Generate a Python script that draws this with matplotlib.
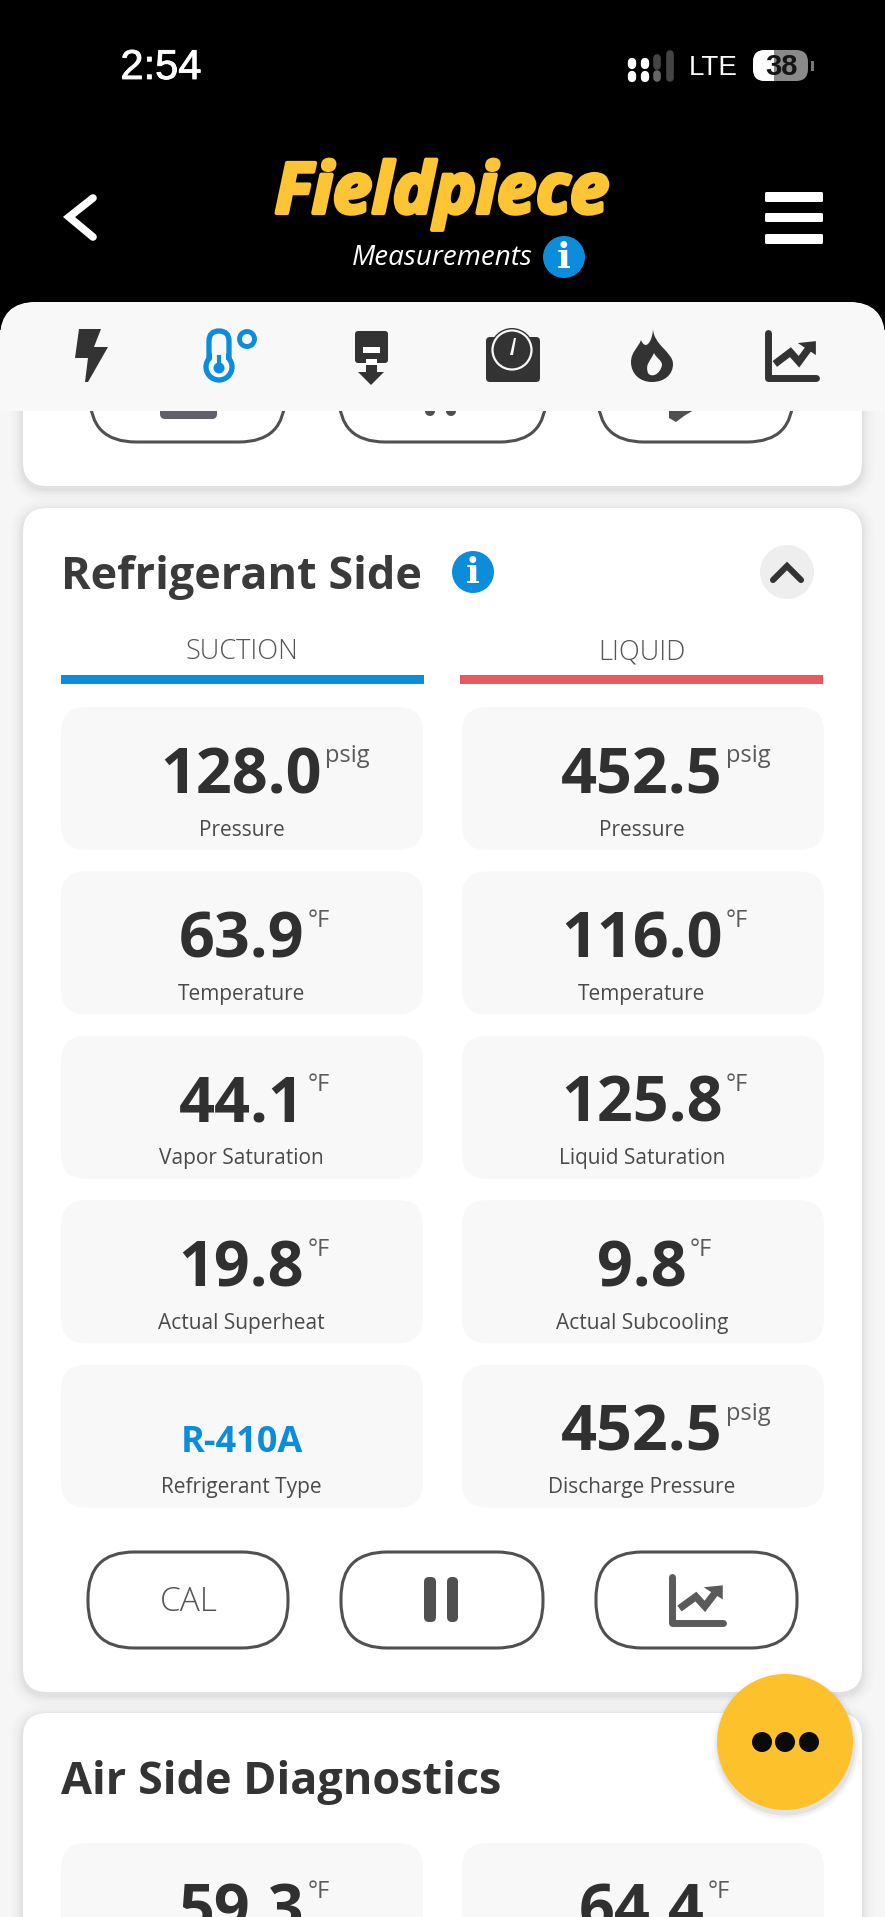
import matplotlib
matplotlib.use("Agg")
import matplotlib.pyplot as plt
from matplotlib.patches import FancyBboxPatch, Circle, Polygon, PathPatch, Rectangle
from matplotlib.path import Path
import matplotlib.patheffects as pe

# ---- content ----
col_titles = ["SUCTION", "LIQUID"]
suction_values = ["128.0", "63.9", "44.1", "19.8", "R-410A"]
suction_units = ["psig", "°F", "°F", "°F", ""]
suction_labels = ["Pressure", "Temperature", "Vapor Saturation", "Actual Superheat", "Refrigerant Type"]
liquid_values = ["452.5", "116.0", "125.8", "9.8", "452.5"]
liquid_units = ["psig", "°F", "°F", "°F", "psig"]
liquid_labels = ["Pressure", "Temperature", "Liquid Saturation", "Actual Subcooling", "Discharge Pressure"]
air_values = ["59.3", "64.4"]
air_units = ["°F", "°F"]

W, H = 885, 1917
BLUE, RED, YEL, DARK, GREY = "#0c8ddb", "#e8585e", "#fdc22b", "#333333", "#505050"
CELL = "#f8f8f8"
plt.rcParams["font.family"] = ["Open Sans", "DejaVu Sans"]

fig = plt.figure(figsize=(W / 100, H / 100), dpi=100, facecolor="#f6f6f6")
ax = fig.add_axes([0, 0, 1, 1])
ax.set_xlim(0, W)
ax.set_ylim(H, 0)
ax.axis("off")


def rbox(x0, y0, x1, y1, r, fc="none", ec="none", lw=0, z=2, alpha=None):
    p = FancyBboxPatch((x0, y0), x1 - x0, y1 - y0, boxstyle=f"round,pad=0,rounding_size={r}",
                       fc=fc, ec=ec, lw=lw, zorder=z, alpha=alpha)
    ax.add_patch(p)
    return p


def card(x0, y0, x1, y1, r=24, z=2):
    for g, a in [(12, .010), (9, .012), (6, .016), (4, .02), (2, .025)]:
        rbox(x0 - g, y0 - g + 3, x1 + g, y1 + g + 3, r + g, fc="k", z=z - .5, alpha=a)
    rbox(x0, y0, x1, y1, r, fc="white", z=z)


def circ(x, y, r, fc="none", ec="none", lw=0, z=6):
    ax.add_patch(Circle((x, y), r, fc=fc, ec=ec, lw=lw, zorder=z))


def poly(pts, fc=DARK, z=6, **kw):
    ax.add_patch(Polygon(pts, closed=True, fc=fc, ec="none", zorder=z, **kw))


def info(x, y, r=21, z=6):
    circ(x, y, r, fc=BLUE, z=z)
    ax.text(x, y + 1, "i", color="white", fontsize=r * 1.25, fontweight="bold", family="DejaVu Serif",
            ha="center", va="center", zorder=z + 1)


def chart_icon(x0, y0, x1, y1, c, z=6, lw=5.0):
    w, h = x1 - x0, y1 - y0
    ax.plot([x0 + .05 * w, x0 + .05 * w, x1 - .03 * w], [y0 + .03 * h, y1 - .05 * h, y1 - .05 * h], color=c, lw=lw,
            solid_capstyle="round", solid_joinstyle="round", zorder=z)
    ax.plot([x0 + .24 * w, x0 + .48 * w, x0 + .64 * w, x0 + .84 * w],
            [y0 + .62 * h, y0 + .42 * h, y0 + .62 * h, y0 + .32 * h], color=c, lw=lw * 1.05,
            solid_joinstyle="miter", zorder=z)
    poly([(x0 + .62 * w, y0 + .23 * h), (x0 + .96 * w, y0 + .19 * h), (x0 + .96 * w, y0 + .48 * h)], fc=c, z=z)


# ---- header ----
ax.add_patch(Rectangle((0, 0), W, 330, fc="black", ec="none", zorder=1))
ax.text(161, 68, "2:54", color="white", fontsize=30, family="Liberation Sans", ha="center", va="center", zorder=6,
        path_effects=[pe.withStroke(linewidth=.6, foreground="white")])
for x in (632, 645):
    ax.plot([x, x], [62, 65], color="white", lw=6, solid_capstyle="round", zorder=6)
    ax.plot([x, x], [75, 78], color="white", lw=6, solid_capstyle="round", zorder=6)
ax.plot([657, 657], [58, 66], color="#444444", lw=5.5, solid_capstyle="round", zorder=6)
ax.plot([657, 657], [74, 78], color="#666666", lw=5.5, solid_capstyle="round", zorder=6)
ax.plot([670, 670], [54, 78], color="#444444", lw=5.5, solid_capstyle="round", zorder=6)
ax.text(713, 68, "LTE", color="white", fontsize=20, family="Liberation Sans", ha="center", va="center", zorder=6)
rbox(753, 50, 808, 81, 12, fc="#8a8a8a", z=5)
clip = rbox(753, 50, 808, 81, 12, fc="white", z=5.5)
clip.set_clip_path(Rectangle((753, 50), 21, 31, transform=ax.transData))
ax.text(781, 67, "38", color="#151515", fontsize=21, family="Liberation Sans", fontweight="bold", ha="center",
        va="center", zorder=6)
ax.add_patch(Rectangle((811, 61), 2.5, 10, fc="#777777", ec="none", zorder=5))

logo = ax.text(442, 213, "Fieldpiece", color="#fdc433", fontsize=50.5, fontstyle="italic", fontweight="bold",
               ha="center", va="baseline", zorder=6)
logo.set_path_effects([pe.withStroke(linewidth=3, foreground="#fdc433")])
ax.text(442, 265, "Measurements", color="white", fontsize=20, fontstyle="italic", ha="center", va="baseline", zorder=6)
info(564, 257)
ax.plot([93, 69, 93], [198, 217, 237], color="white", lw=5.5, solid_capstyle="round", solid_joinstyle="miter", zorder=6)
for y0, y1 in [(192, 202), (213, 222), (234, 244)]:
    rbox(765, y0, 823, y1, 1.5, fc="white", z=6)

# ---- page background and nav ----
ax.add_patch(Rectangle((0, 330), W, H, fc="#f6f6f6", ec="none", zorder=1.1))
rbox(0, 302, W, 500, 38, fc="#f6f6f6", z=1.2)
card(23, 345, 862, 486, z=2)
for x0, x1 in [(90, 285), (339, 546), (598, 793)]:
    rbox(x0, 345, x1, 442, 46, ec=GREY, lw=2.2, z=3)
rbox(160, 395, 217, 419, 5, fc="#60606a", z=3)
circ(430, 411, 5, fc=GREY, z=3)
circ(451, 411, 5, fc=GREY, z=3)
poly([(669, 410), (694, 410), (684, 416), (676, 422), (669, 418)], fc=GREY, z=3)

# nav bar drawn above the scrolled card
rbox(0, 302, W, 411, 36, fc="#f8f8f8", z=4)
ax.add_patch(Rectangle((0, 360), W, 51, fc="#f8f8f8", ec="none", zorder=4))
# bolt
poly([(79, 329), (101, 329), (94, 347), (108, 347), (88, 382), (85, 382), (88, 358), (75, 358)])
# thermometer
rbox(209, 331, 229, 375, 10, ec=BLUE, lw=3.8, z=6)
circ(219, 367, 13, fc="#f8f8f8", ec=BLUE, lw=3.8, z=6.1)
ax.add_patch(Rectangle((212, 345), 14, 18, fc="#f8f8f8", ec="none", zorder=6.2))
circ(219, 368, 5.5, fc=BLUE, z=6.3)
ax.plot([219, 219], [357, 368], color=BLUE, lw=3, zorder=6.3)
circ(247, 339, 7.5, ec=BLUE, lw=3.5, z=6)
# probe
rbox(355, 331, 388, 363, 3, fc=DARK, z=6)
ax.add_patch(Rectangle((363, 347), 17, 6, fc="white", ec="none", zorder=6.1))
ax.add_patch(Rectangle((366, 359), 11, 6, fc="white", ec="none", zorder=6.1))
poly([(366, 365), (377, 365), (377, 372), (384, 372), (371, 385), (358, 372), (366, 372)])
# gauge
rbox(486, 337, 540, 382, 4, fc=DARK, z=6)
circ(512, 350, 22, fc=DARK, z=6.05)
circ(512, 350, 19.5, fc=DARK, ec="#f8f8f8", lw=1.6, z=6.1)
poly([(514, 338), (516, 338), (513, 355), (510, 355)], fc="#f8f8f8", z=6.2)
# flame
fl = Path([(653, 328), (653, 345), (673, 352), (673, 364), (673, 375), (664, 382), (652, 382),
           (640, 382), (631, 374), (631, 362), (631, 352), (638, 348), (641, 340), (646, 352), (653, 340), (653, 328)],
          [Path.MOVETO, Path.CURVE4, Path.CURVE4, Path.CURVE4, Path.CURVE4, Path.CURVE4, Path.CURVE4,
           Path.CURVE4, Path.CURVE4, Path.CURVE4, Path.CURVE4, Path.CURVE4, Path.CURVE4, Path.CURVE4, Path.CURVE4,
           Path.CURVE4])
ax.add_patch(PathPatch(fl, fc=DARK, ec="none", zorder=6))
fi = Path([(654, 353), (650, 362), (645, 364), (648, 373), (651, 378), (660, 375), (662, 365), (662, 360), (656, 358), (654, 353)],
          [Path.MOVETO] + [Path.CURVE4] * 9)
ax.add_patch(PathPatch(fi, fc="#f8f8f8", ec="none", zorder=6.1))
chart_icon(765, 332, 818, 380, DARK)

# ---- refrigerant card ----
card(23, 508, 862, 1692)
ax.text(61, 589, "Refrigerant Side", color="#3a3a3a", fontsize=32.4, fontweight="bold", ha="left", va="baseline", zorder=6)
info(473, 572)
circ(787, 572, 27, fc="#eeeeee", z=5)
ax.plot([773, 787, 801], [580, 566, 580], color=DARK, lw=4.4, solid_capstyle="round", solid_joinstyle="miter", zorder=6)

COLS = [(61, 423), (462, 824)]
CENTERS = [241.5, 642]
for cx, title, (bx0, bx1), c in zip(CENTERS, col_titles, [(61, 424), (460, 823)], [BLUE, RED]):
    ax.text(cx, 652, title, color="#555555", fontsize=19.5, fontweight="light", ha="center", va="center", zorder=6)
    ax.add_patch(Rectangle((bx0, 675), bx1 - bx0, 9, fc=c, ec="none", zorder=5))

rend = fig.canvas.get_renderer()
CELL_H, PITCH, TOP = 143, 164.4, 707


def value_cell(col, top, value, unit, label=None):
    x0, x1 = COLS[col]
    cx = CENTERS[col]
    rbox(x0, top, x1, top + CELL_H, 25, fc=CELL, z=4)
    if value.startswith("R-"):
        ax.text(cx, top + 87, value, color=BLUE, fontsize=26, fontweight="bold", ha="center", va="baseline", zorder=6)
    else:
        t = ax.text(cx, top + 86, value, color="#303030", fontsize=45.3, fontweight="bold", ha="center",
                    va="baseline", zorder=6)
        right = t.get_window_extent(rend).x1
        if unit:
            ax.text(right + 3, top + 55.5, unit, color="#5a5a5a", fontsize=17, ha="left",
                    va="baseline", zorder=6)
    if label:
        ax.text(cx, top + 123, label, color="#4a4a4a", fontsize=15, ha="center", va="center", zorder=6)


for i in range(5):
    top = TOP + i * PITCH
    value_cell(0, top, suction_values[i], suction_units[i], suction_labels[i])
    value_cell(1, top, liquid_values[i], liquid_units[i], liquid_labels[i])

for x0, x1 in [(88, 288), (341, 543), (596, 797)]:
    rbox(x0, 1552, x1, 1648, 46, ec=GREY, lw=2.2, z=5)
ax.text(189, 1602.5, "CAL", color="#555555", fontsize=24, fontweight="light", ha="center", va="center", zorder=6)
for x0, x1 in [(424, 436), (447, 458)]:
    rbox(x0, 1577, x1, 1622, 5, fc=GREY, z=6)
chart_icon(669, 1576, 725, 1625, "#5a5a5a")

# ---- air side card ----
card(23, 1713, 862, 1960)
ax.text(61, 1794, "Air Side Diagnostics", color="#333333", fontsize=32.4, fontweight="bold", ha="left", va="baseline", zorder=6)
for c in range(2):
    value_cell(c, 1843, air_values[c], air_units[c])

# ---- floating action button ----
for g, a in [(7, .02), (5, .035), (2.5, .06)]:
    circ(786, 1746, 67 + g, fc=(0, 0, 0, a), z=7)
circ(785, 1742, 68, fc=YEL, z=8)
for x in (762, 785, 809):
    circ(x, 1742, 10, fc="#0a0a0a", z=9)

fig.savefig("out.png", dpi=100, facecolor=fig.get_facecolor())
